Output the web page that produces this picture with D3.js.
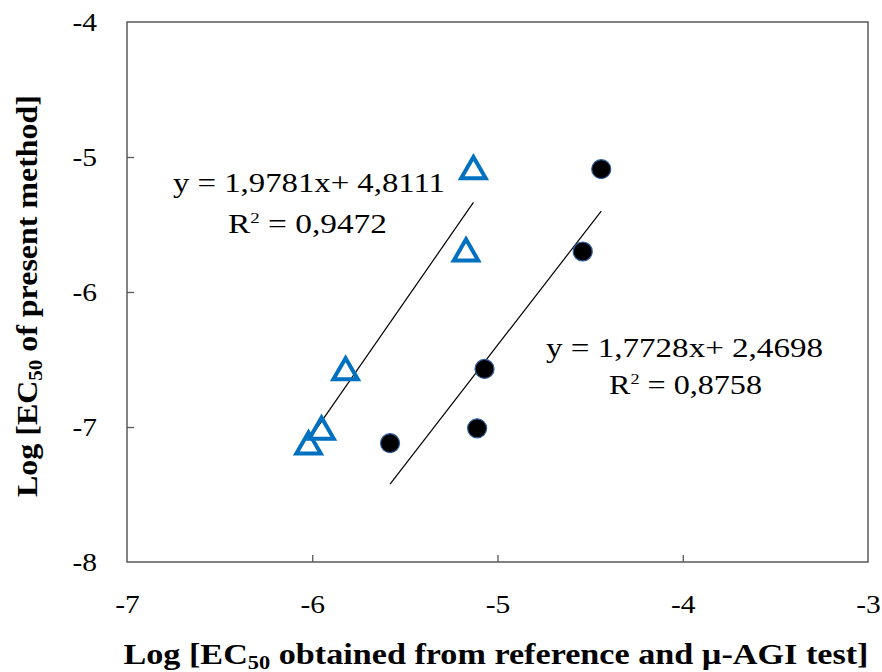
<!DOCTYPE html>
<html><head><meta charset="utf-8">
<script src="https://cdn.jsdelivr.net/npm/d3@7"></script>
<style>body{margin:0;background:#fff;} svg{display:block;}</style>
</head><body>
<svg id="c" width="882" height="672"></svg>
<script>
const xTicks = [-7, -6, -5, -4, -3];
const yTicks = [-4, -5, -6, -7, -8];
const triX = [-5.13, -5.17, -5.82, -5.95, -6.02];
const triY = [-5.09, -5.70, -6.58, -7.02, -7.13];
const dotX = [-4.44, -4.54, -5.07, -5.11, -5.58];
const dotY = [-5.09, -5.70, -6.57, -7.01, -7.12];
const fitSlope = [1.9781, 1.7728];
const fitIntercept = [4.8111, 2.4698];
const eqText = ["y = 1,9781x+ 4,8111", "y = 1,7728x+ 2,4698"];
const r2Text = ["0,9472", "0,8758"];

// layout (pixels)
const eqLayout = [
  {cx: 309, by: 192, w: 272, r2cx: 307.5, r2by: 233, r2w: 159},
  {cx: 684.5, by: 357, w: 277, r2cx: 685.5, r2by: 394, r2w: 153}
];

const svg = d3.select("#c");
const m = {l:127, r:868, t:22, b:562};
const x = d3.scaleLinear().domain([-7,-3]).range([m.l, m.r]);
const y = d3.scaleLinear().domain([-8,-4]).range([m.b, m.t]);
const font = "'Liberation Serif','Times New Roman',serif";
const frame = "#595959";
const stretch = 1.18;

function widen(sel, f){
  sel.each(function(){
    const w = this.getComputedTextLength();
    d3.select(this).attr("textLength", w*f).attr("lengthAdjust","spacingAndGlyphs");
  });
}

// frame
svg.append("rect").attr("x", m.l).attr("y", m.t).attr("width", m.r-m.l).attr("height", m.b-m.t)
  .attr("fill","none").attr("stroke",frame).attr("stroke-width",1.5);

// axes
const xa = svg.append("g").attr("transform",`translate(0,${m.b})`)
  .call(d3.axisBottom(x).tickValues(xTicks).tickSize(-7).tickPadding(33).tickFormat(d=>d));
const ya = svg.append("g").attr("transform",`translate(${m.l},0)`)
  .call(d3.axisLeft(y).tickValues(yTicks).tickSize(-7).tickPadding(30).tickFormat(d=>d));
[xa, ya].forEach(a=>{
  a.select(".domain").remove();
  a.selectAll("line").attr("stroke",frame).attr("stroke-width",1.3);
  a.selectAll("text").attr("font-family",font).attr("font-size",25).attr("fill","#000");
  widen(a.selectAll("text"), stretch);
});
xa.selectAll(".tick").filter(d=>d===-7||d===-3).select("line").remove();
ya.selectAll(".tick").filter(d=>d===-4||d===-8).select("line").remove();

// trendlines
const groupsX = [triX, dotX];
groupsX.forEach((gx,i)=>{
  const x0 = d3.min(gx), x1 = d3.max(gx);
  svg.append("line")
    .attr("x1", x(x0)).attr("y1", y(fitSlope[i]*x0+fitIntercept[i]))
    .attr("x2", x(x1)).attr("y2", y(fitSlope[i]*x1+fitIntercept[i]))
    .attr("stroke","#000").attr("stroke-width",1.2);
});

// triangles
const tri = d3.symbol().type(d3.symbolTriangle).size(260);
svg.append("g").selectAll("path").data(triX.map((v,i)=>[v,triY[i]])).join("path")
  .attr("d", tri).attr("transform", d=>`translate(${x(d[0])},${y(d[1])+2})`)
  .attr("fill","none").attr("stroke","#0070C0").attr("stroke-width",4).attr("stroke-linejoin","miter");

// dots
svg.append("g").selectAll("circle").data(dotX.map((v,i)=>[v,dotY[i]])).join("circle")
  .attr("cx", d=>x(d[0])).attr("cy", d=>y(d[1])).attr("r", 9.5)
  .attr("fill","#000").attr("stroke","#2e5d9a").attr("stroke-width",1.2);

// equation labels
eqLayout.forEach((p,i)=>{
  svg.append("text").attr("x",p.cx).attr("y",p.by).attr("text-anchor","middle")
    .attr("font-family",font).attr("font-size",26.5)
    .attr("textLength",p.w).attr("lengthAdjust","spacingAndGlyphs").text(eqText[i]);
  const t = svg.append("text").attr("x",p.r2cx).attr("y",p.r2by).attr("text-anchor","middle")
    .attr("font-family",font).attr("font-size",26.5)
    .attr("textLength",p.r2w).attr("lengthAdjust","spacingAndGlyphs");
  t.append("tspan").text("R");
  t.append("tspan").attr("font-size",15).attr("dy",-10).text("2");
  t.append("tspan").attr("dy",10).text(" = " + r2Text[i]);
});

// axis titles
const xt = svg.append("text").attr("x",496).attr("y",664).attr("text-anchor","middle")
  .attr("font-family",font).attr("font-size",29).attr("font-weight","bold")
  .attr("textLength",745).attr("lengthAdjust","spacingAndGlyphs");
xt.append("tspan").text("Log [EC");
xt.append("tspan").attr("font-size",19).attr("dy",5).text("50");
xt.append("tspan").attr("dy",-5).text(" obtained from reference and µ-AGI test]");

const yt = svg.append("text").attr("transform",`translate(37,296) rotate(-90)`)
  .attr("text-anchor","middle").attr("font-family",font).attr("font-size",29).attr("font-weight","bold")
  .attr("textLength",402).attr("lengthAdjust","spacingAndGlyphs");
yt.append("tspan").text("Log [EC");
yt.append("tspan").attr("font-size",19).attr("dy",5).text("50");
yt.append("tspan").attr("dy",-5).text(" of present method]");
</script>
</body></html>
